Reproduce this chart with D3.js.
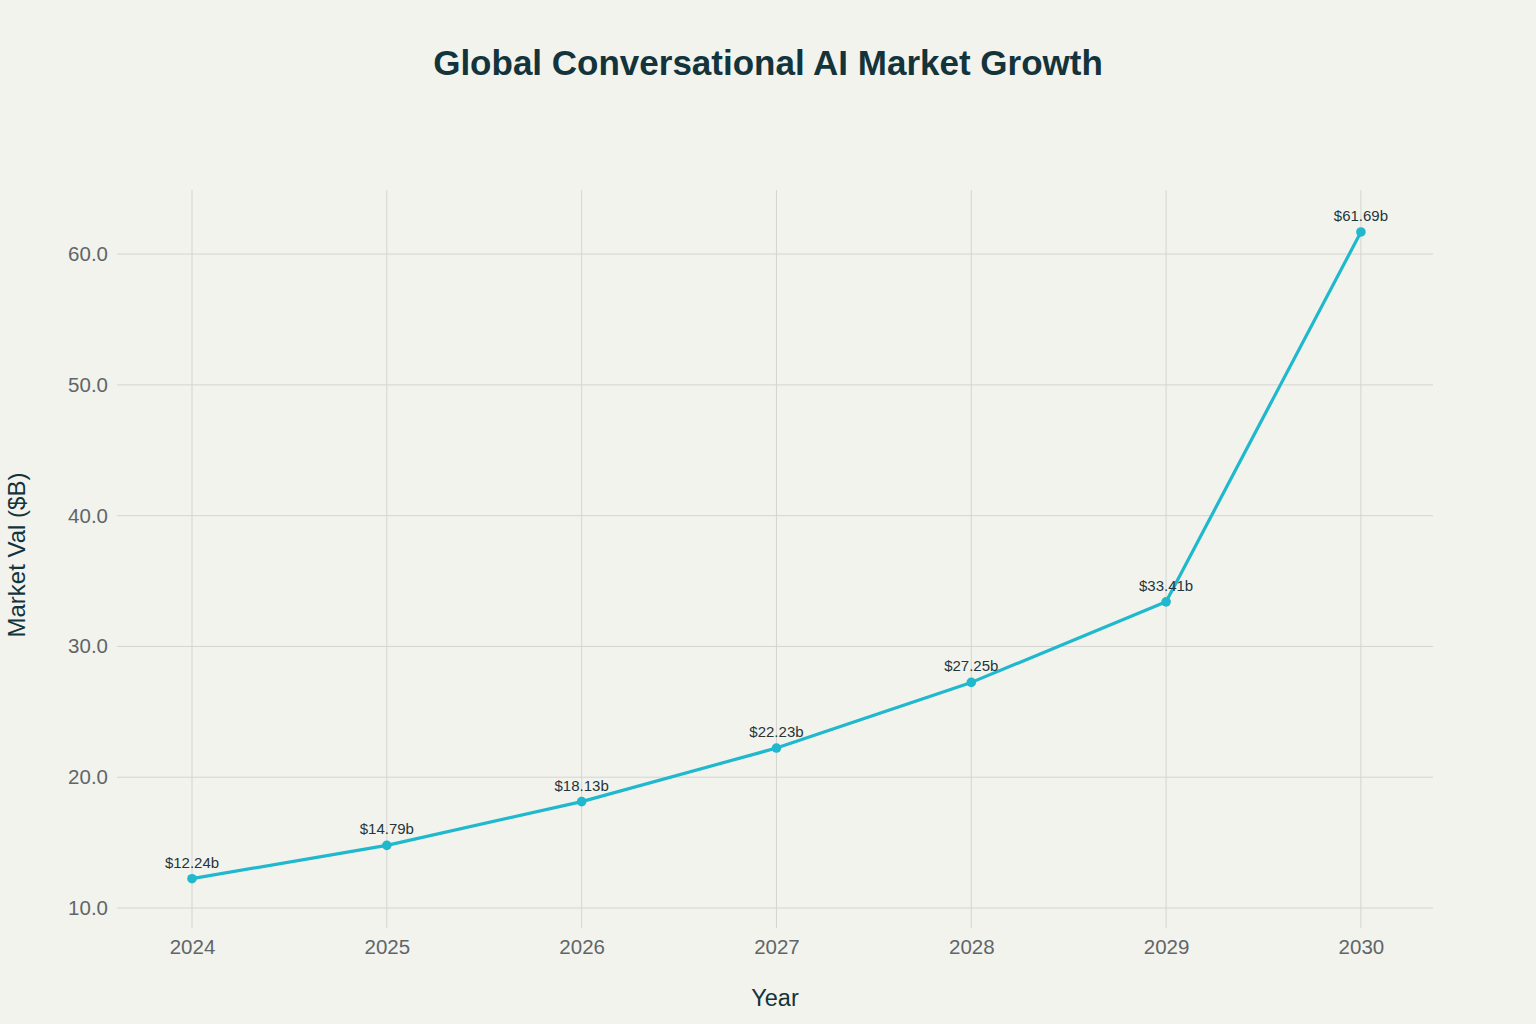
<!DOCTYPE html>
<html>
<head>
<meta charset="utf-8">
<script src="https://cdn.jsdelivr.net/npm/d3@7"></script>
<style>
  html, body { margin: 0; padding: 0; background: #f3f3ee; }
  svg { display: block; font-family: "Liberation Sans", Arial, sans-serif; }
</style>
</head>
<body>
<svg id="chart" width="1536" height="1024"></svg>
<script>
// chart values
var years = [2024, 2025, 2026, 2027, 2028, 2029, 2030]
var marketVal = [12.24, 14.79, 18.13, 22.23, 27.25, 33.41, 61.69]
var yTicks = [10, 20, 30, 40, 50, 60]

var width = 1536
var height = 1024
var margin = {top: 190, right: 103, bottom: 96, left: 117}
var plotW = width - margin.left - margin.right
var plotH = height - margin.top - margin.bottom

var lineColor = '#1fb8cd'
var gridColor = '#d4d5d0'

var svg = d3.select('#chart')

svg.append('rect')
  .attr('width', width)
  .attr('height', height)
  .attr('fill', '#f3f3ee')

var x = d3.scaleLinear()
  .domain([2023.615, 2030.37])
  .range([0, plotW])

var y = d3.scaleLinear()
  .domain([8.47, 64.9])
  .range([plotH, 0])

var g = svg.append('g')
  .attr('transform', 'translate(' + margin.left + ',' + margin.top + ')')

// grid
g.append('g').selectAll('line')
  .data(years)
  .join('line')
    .attr('x1', d => x(d)).attr('x2', d => x(d))
    .attr('y1', 0).attr('y2', plotH)
    .attr('stroke', gridColor).attr('stroke-width', 1)

g.append('g').selectAll('line')
  .data(yTicks)
  .join('line')
    .attr('x1', 0).attr('x2', plotW)
    .attr('y1', d => y(d)).attr('y2', d => y(d))
    .attr('stroke', gridColor).attr('stroke-width', 1)

// axes (labels only)
var xAxis = g.append('g')
  .attr('transform', 'translate(0,' + plotH + ')')
  .call(d3.axisBottom(x).tickValues(years).tickFormat(d3.format('d')).tickSize(0).tickPadding(11))
xAxis.select('.domain').remove()
xAxis.selectAll('text')
  .attr('fill', '#5f6668')
  .style('font-size', '20.5px')
  .attr('font-family', '"Liberation Sans", Arial, sans-serif')

var yAxis = g.append('g')
  .call(d3.axisLeft(y).tickValues(yTicks).tickFormat(d3.format('.1f')).tickSize(0).tickPadding(9))
yAxis.select('.domain').remove()
yAxis.selectAll('text')
  .attr('fill', '#5f6668')
  .style('font-size', '20.5px')
  .attr('font-family', '"Liberation Sans", Arial, sans-serif')

// line
var points = years.map((yr, i) => ({year: yr, val: marketVal[i]}))

g.append('path')
  .datum(points)
  .attr('fill', 'none')
  .attr('stroke', lineColor)
  .attr('stroke-width', 3.2)
  .attr('stroke-linejoin', 'round')
  .attr('d', d3.line().x(d => x(d.year)).y(d => y(d.val)))

g.append('g').selectAll('circle')
  .data(points)
  .join('circle')
    .attr('cx', d => x(d.year))
    .attr('cy', d => y(d.val))
    .attr('r', 4.8)
    .attr('fill', lineColor)

g.append('g').selectAll('text')
  .data(points)
  .join('text')
    .attr('x', d => x(d.year))
    .attr('y', d => y(d.val) - 11)
    .attr('text-anchor', 'middle')
    .attr('fill', '#23363a')
    .style('font-size', '15px')
    .text(d => '$' + d.val.toFixed(2) + 'b')

// titles
svg.append('text')
  .attr('x', width / 2)
  .attr('y', 75)
  .attr('text-anchor', 'middle')
  .attr('fill', '#13343b')
  .style('font-size', '35px')
  .style('font-weight', 'bold')
  .text('Global Conversational AI Market Growth')

svg.append('text')
  .attr('x', margin.left + plotW / 2)
  .attr('y', 1006)
  .attr('text-anchor', 'middle')
  .attr('fill', '#13343b')
  .style('font-size', '23.5px')
  .text('Year')

svg.append('text')
  .attr('transform', 'translate(25,' + (margin.top + plotH / 2 - 4) + ') rotate(-90)')
  .attr('text-anchor', 'middle')
  .attr('fill', '#13343b')
  .style('font-size', '24px')
  .text('Market Val ($B)')
</script>
</body>
</html>
